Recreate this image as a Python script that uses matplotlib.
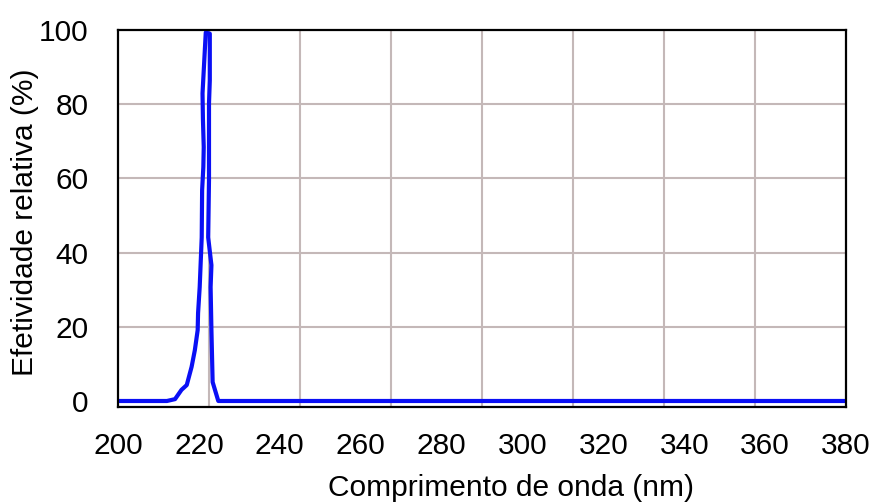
import matplotlib
matplotlib.use("Agg")
import matplotlib.pyplot as plt
import numpy as np

plt.rcParams['font.family'] = ['Liberation Sans', 'DejaVu Sans']

wavelength = [200, 212.1, 214.1, 215.7, 217.0, 218.2, 219.0, 219.7, 219.8, 220.2,
              220.7, 220.8, 221.1, 221.2, 221.0, 220.9, 221.7,
              222.7, 222.7, 222.5, 222.5, 222.3, 223.1, 222.9, 223.1, 223.4, 224.8, 380]
efetividade = [0, 0, 0.5, 3.0, 4.3, 9.2, 13.7, 19.1, 23.7, 30.7,
               44.1, 56.8, 63.0, 68.4, 76.0, 82.9, 99.3,
               99.0, 86.4, 80.2, 59.5, 44.1, 36.6, 30.7, 19.1, 5.1, 0, 0]

x_ticks = [200, 220, 240, 260, 280, 300, 320, 340, 360, 380]
y_ticks = [0, 20, 40, 60, 80, 100]
x_grid = [222.5, 245, 267.5, 290, 312.5, 335, 357.5]
y_grid = [20, 40, 60, 80]

fig = plt.figure(figsize=(8.74, 5.03), dpi=100)
ax = fig.add_axes([0.135, 0.191, 0.833, 0.7495])

grid_color = '#c4b8b8'
for gx in x_grid:
    ax.axvline(gx, color=grid_color, lw=1.5, zorder=1)
for gy in y_grid:
    ax.axhline(gy, color=grid_color, lw=1.5, zorder=1)

ax.plot(wavelength, efetividade, color='#0a0ff5', lw=3.0, zorder=3, solid_joinstyle='round')

ax.set_xlim(200, 380)
ax.set_ylim(-1.6, 100)
ax.set_xticks(x_ticks)
ax.set_yticks(y_ticks)
ax.tick_params(axis='both', length=0, labelsize=21.5)
ax.tick_params(axis='x', pad=18)
ax.tick_params(axis='y', pad=21)

for s in ax.spines.values():
    s.set_linewidth(1.6)
    s.set_color('black')
    s.set_zorder(4)

ax.set_xlabel('Comprimento de onda (nm)', fontsize=21.5)
ax.set_ylabel('Efetividade relativa (%)', fontsize=21.5)
ax.xaxis.set_label_coords(0.54, -0.178)
ax.yaxis.set_label_coords(-0.108, 0.49)

fig.savefig('out.png', dpi=100)
